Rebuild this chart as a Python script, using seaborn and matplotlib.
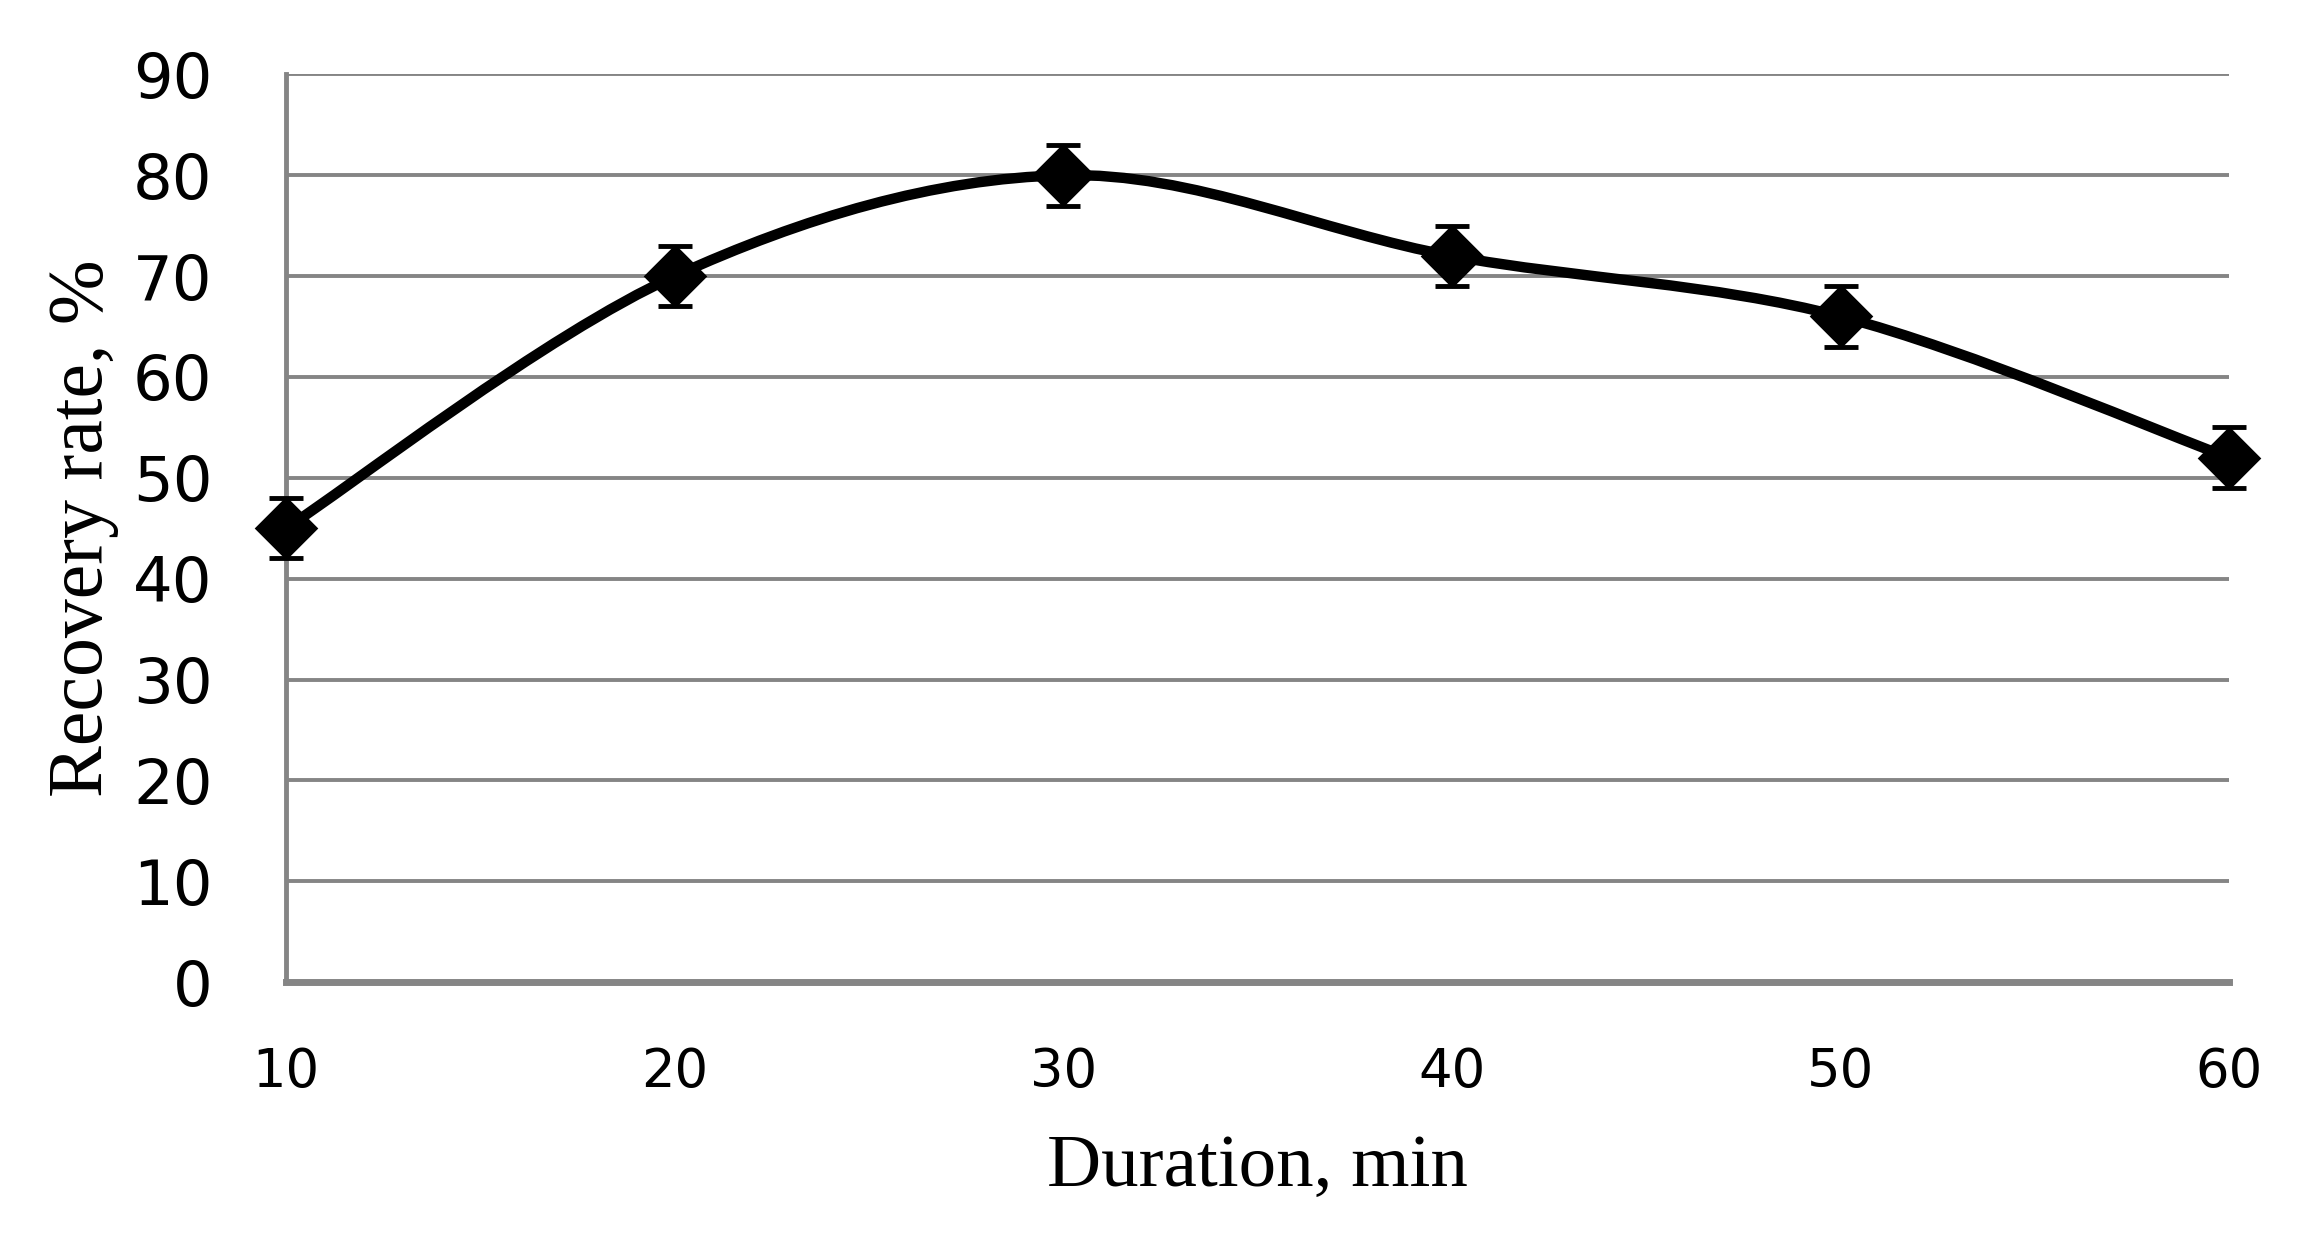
import numpy as np
import matplotlib
matplotlib.use("Agg")
import matplotlib.pyplot as plt
import seaborn as sns
from matplotlib.path import Path
from matplotlib.patches import PathPatch

# Data
duration = [10, 20, 30, 40, 50, 60]
recovery = [45, 70, 80, 72, 66, 52]
error = [3, 3, 3, 3, 3, 3]
y_ticks = [0, 10, 20, 30, 40, 50, 60, 70, 80, 90]

sns.set_theme(style="white")
plt.rcParams['font.family'] = ['DejaVu Sans']

fig = plt.figure(figsize=(23.22, 12.40), dpi=100)
ax = fig.add_axes([0.1232, 0.208, 0.8368, 0.732])

# Excel-style smoothed line: cubic Bezier segments through the data points
pts = np.column_stack([duration, recovery]).astype(float)
ext = np.vstack([pts[0], pts, pts[-1]])
verts = [tuple(pts[0])]
codes = [Path.MOVETO]
for i in range(len(pts) - 1):
    p0, p1, p2, p3 = ext[i], ext[i + 1], ext[i + 2], ext[i + 3]
    c1 = p1 + (p2 - p0) / 6.0
    c2 = p2 - (p3 - p1) / 6.0
    verts += [tuple(c1), tuple(c2), tuple(p2)]
    codes += [Path.CURVE4] * 3
curve = PathPatch(Path(verts, codes), facecolor="none", edgecolor="black",
                  lw=7.5, capstyle="round", joinstyle="round", zorder=3)
ax.add_patch(curve)

# error bars and diamond markers
ax.errorbar(duration, recovery, yerr=error, fmt="none", ecolor="black",
            elinewidth=3.5, capsize=12, capthick=3.5, zorder=4, clip_on=False)
sns.scatterplot(x=duration, y=recovery, marker="D", s=1050, color="black",
                edgecolor="black", linewidth=0, zorder=5, ax=ax, clip_on=False)

ax.set_xlim(10, 60)
ax.set_ylim(0, 90)
ax.set_yticks(y_ticks)
ax.set_xticks(duration)
ax.yaxis.grid(True, color="#858585", linewidth=2.8)
ax.xaxis.grid(False)
ax.set_axisbelow(True)

for side in ["top", "right"]:
    ax.spines[side].set_visible(False)
ax.spines["left"].set_color("#858585")
ax.spines["left"].set_linewidth(3.5)
ax.spines["bottom"].set_color("#858585")
ax.spines["bottom"].set_linewidth(5)
ax.tick_params(axis="both", length=0)
ax.tick_params(axis="y", pad=53, labelsize=45, labelcolor="black")
ax.tick_params(axis="x", pad=46, labelcolor="black")
for lab in ax.get_xticklabels():
    lab.set_fontfamily(["Liberation Sans Narrow", "DejaVu Sans"])
    lab.set_fontsize(38)

ax.set_xlabel("Duration, min", fontsize=54, family=["Liberation Serif"],
              labelpad=26, color="black")
ax.set_ylabel("Recovery rate, %", fontsize=56, family=["Liberation Serif"],
              labelpad=10, color="black")

fig.savefig("out.png", dpi=100, facecolor="white")
